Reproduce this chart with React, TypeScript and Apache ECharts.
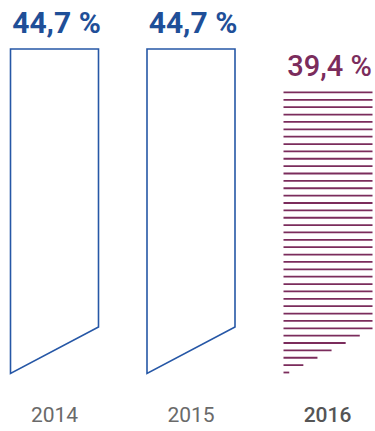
import React, { useEffect, useRef } from "react";
import * as echarts from "echarts";

// ---- data ----
const years: string[] = ["2014", "2015", "2016"];
const shares: number[] = [44.7, 44.7, 39.4];
const shareLabels: string[] = ["44,7 %", "44,7 %", "39,4 %"];
const highlightYear = "2016";

// ---- styles ----
const BLUE_LINE = "#2657a6";
const BLUE_TEXT = "#1f4f98";
const MAROON = "#7b2c5c";
const BAR_W = 88;
const SLANT = 46.5;
const STRIPE_GAP = 7.37;
const FONT = "Roboto, 'Open Sans', sans-serif";

export default function App() {
  const ref = useRef<HTMLDivElement>(null);

  useEffect(() => {
    if (!ref.current) return;
    const chart = echarts.init(ref.current, null, { renderer: "svg" });

    const renderItem = (params: any, api: any) => {
      const idx = params.dataIndex;
      const val = api.value(1);
      const top = api.coord([idx, val]);
      const base = api.coord([idx, 0]);
      const cx = top[0];
      const yTop = top[1];
      const yBase = base[1];
      const x0 = cx - BAR_W / 2;
      const x1 = cx + BAR_W / 2;
      const highlighted = years[idx] === highlightYear;
      const children: any[] = [];
      let labelRef = yTop;

      if (!highlighted) {
        children.push({
          type: "polygon",
          shape: {
            points: [
              [x0, yTop],
              [x1, yTop],
              [x1, yBase - SLANT],
              [x0, yBase],
            ],
          },
          style: { fill: "none", stroke: BLUE_LINE, lineWidth: 1.6 },
        });
      } else {
        const clipBase = yBase + 2;
        const w = x1 + 1 - x0;
        let firstY = yBase;
        for (let k = 0; ; k++) {
          const y = yBase - 1 - k * STRIPE_GAP;
          if (y < yTop) break;
          firstY = y;
          const xe = Math.min(x1 + 1, x0 + ((clipBase - y) * w) / SLANT);
          children.push({
            type: "line",
            shape: { x1: x0, y1: y, x2: xe, y2: y },
            style: { stroke: MAROON, lineWidth: 1.8 },
          });
        }
        labelRef = firstY;
      }

      children.push({
        type: "text",
        style: {
          text: shareLabels[idx],
          x: cx + 2,
          y: labelRef - 26.5,
          align: "center",
          verticalAlign: "middle",
          fill: highlighted ? MAROON : BLUE_TEXT,
          fontSize: highlighted ? 29 : 30,
          fontWeight: highlighted ? 500 : 700,
          fontFamily: FONT,
        },
      });

      return { type: "group", children };
    };

    chart.setOption({
      animation: false,
      grid: { left: 54.5, right: 47.5, top: 49, bottom: 57.5 },
      xAxis: {
        type: "category",
        data: years,
        boundaryGap: false,
        axisLine: { show: false },
        axisTick: { show: false },
        splitLine: { show: false },
        axisLabel: {
          margin: 30,
          formatter: (v: string) => (v === highlightYear ? `{b|${v}}` : `{a|${v}}`),
          rich: {
            a: { fontSize: 21, color: "#6a6a6a", fontFamily: FONT, lineHeight: 22 },
            b: { fontSize: 21, color: "#555555", fontWeight: 500, fontFamily: FONT, lineHeight: 22 },
          },
        },
      },
      yAxis: {
        type: "value",
        min: 0,
        max: 44.7,
        show: false,
      },
      series: [
        {
          type: "custom",
          renderItem,
          data: shares.map((v, i) => [i, v]),
          clip: false,
        },
      ],
    });

    return () => chart.dispose();
  }, []);

  return <div ref={ref} style={{ width: 375, height: 431, position: "absolute", left: 0, top: 0 }} />;
}
